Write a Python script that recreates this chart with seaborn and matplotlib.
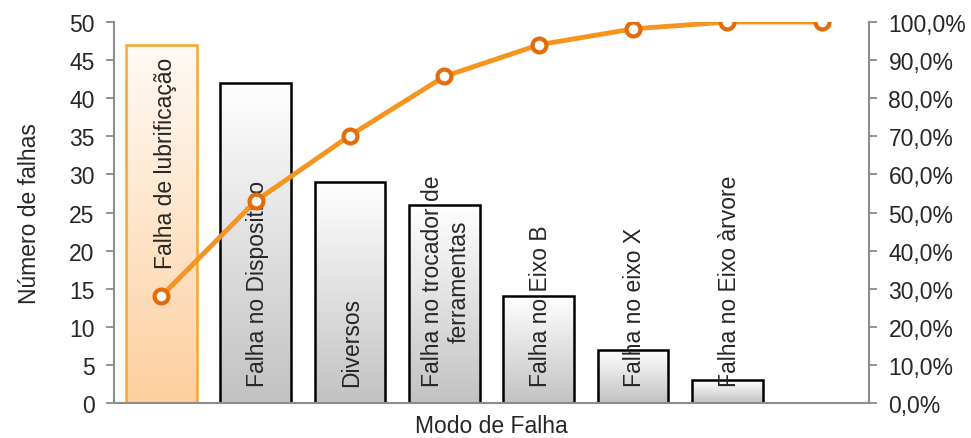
import numpy as np
import pandas as pd
import matplotlib
matplotlib.use("Agg")
import matplotlib.pyplot as plt
import seaborn as sns
from matplotlib.colors import LinearSegmentedColormap
from matplotlib.ticker import FuncFormatter, MultipleLocator

# Failure modes and their counts
modes = [
    "Falha de lubrificação",
    "Falha no Dispositivo",
    "Diversos",
    "Falha no trocador de\nferramentas",
    "Falha no Eixo B",
    "Falha no eixo X",
    "Falha no Eixo àrvore",
]
counts = [47, 42, 29, 26, 14, 7, 3]

# Cumulative share (%), one extra closing point
cum_pct = [28.0, 53.0, 70.2, 85.7, 94.0, 98.2, 100.0, 100.0]

y_left_ticks = [0, 5, 10, 15, 20, 25, 30, 35, 40, 45, 50]

sns.set_theme(style="white")
plt.rcParams["font.family"] = ["Liberation Sans", "DejaVu Sans"]
text_color = "#262626"
fs = 16.5

fig = plt.figure(figsize=(9.71, 4.39), dpi=100)
ax = fig.add_axes([0.1174, 0.0797, 0.7776, 0.8679])

df = pd.DataFrame({"modo": modes, "falhas": counts})
sns.barplot(data=df, x="modo", y="falhas", order=modes, ax=ax,
            width=0.75, color="white", edgecolor="black", linewidth=1.8)

ax.set_xlim(-0.5, 7.5)
ax.set_ylim(0, 50)
ax.set_yticks(y_left_ticks)

# Gradient fills clipped to each bar
gray_cmap = LinearSegmentedColormap.from_list("g", ["#c2c2c2", "#ffffff"])
orange_cmap = LinearSegmentedColormap.from_list("o", ["#fdcf9f", "#fffaf5"])
grad = np.linspace(0, 1, 256).reshape(-1, 1)
for i, patch in enumerate(ax.patches):
    x0, y0 = patch.get_x(), patch.get_y()
    w, h = patch.get_width(), patch.get_height()
    cmap = orange_cmap if i == 0 else gray_cmap
    img = ax.imshow(grad, cmap=cmap, origin="lower", aspect="auto",
                    extent=[x0, x0 + w, y0, y0 + h], zorder=1.5)
    img.set_clip_path(patch)
    patch.set_facecolor("none")
    patch.set_zorder(2)
    if i == 0:
        patch.set_edgecolor("#f9a62a")
ax.set_xlim(-0.5, 7.5)
ax.set_ylim(0, 50)

# Category names written inside the bars
for i, name in enumerate(modes):
    if i == 0:
        ax.text(i + 0.05, counts[i] - 1.6, name, rotation=90, rotation_mode="anchor",
                ha="right", va="center", multialignment="center",
                fontsize=fs, color=text_color, zorder=5)
    else:
        ax.text(i + 0.02, 2.2, name, rotation=90, rotation_mode="anchor",
                ha="left", va="center", multialignment="center",
                fontsize=fs, color=text_color, zorder=5)

ax.set_xticks([])
ax.set_xlabel("Modo de Falha", fontsize=fs, color=text_color, labelpad=8)
ax.set_ylabel("Número de falhas", fontsize=fs, color=text_color, labelpad=20)
ax.tick_params(axis="y", labelsize=fs, colors=text_color, length=6, width=1.2,
               direction="out", left=True, color="#808080", pad=8)

# Cumulative percentage on the secondary axis
ax2 = ax.twinx()
sns.lineplot(x=np.arange(len(cum_pct)), y=cum_pct, ax=ax2, color="#f7941d",
             linewidth=3.5, marker="o", markersize=10, markerfacecolor="white",
             markeredgecolor="#e36c09", markeredgewidth=3, zorder=6)
ax2.set_ylim(0, 100)
ax2.yaxis.set_major_locator(MultipleLocator(10))
ax2.yaxis.set_major_formatter(FuncFormatter(lambda v, p: f"{v:.1f}%".replace(".", ",")))
ax2.tick_params(axis="y", labelsize=fs, colors=text_color, length=6, width=1.2,
                direction="out", right=True, color="#808080", pad=8)
ax2.set_xlim(-0.5, 7.5)

for a in (ax, ax2):
    a.grid(False)
    a.spines["top"].set_visible(False)
    for s in ("left", "right", "bottom"):
        a.spines[s].set_color("#8c8c8c")
        a.spines[s].set_linewidth(1.5)
ax.spines["right"].set_visible(False)
ax2.spines["left"].set_visible(False)
ax2.spines["bottom"].set_visible(False)
ax2.set_zorder(ax.get_zorder() + 1)
ax2.patch.set_visible(False)

fig.savefig("out.png", dpi=100)
